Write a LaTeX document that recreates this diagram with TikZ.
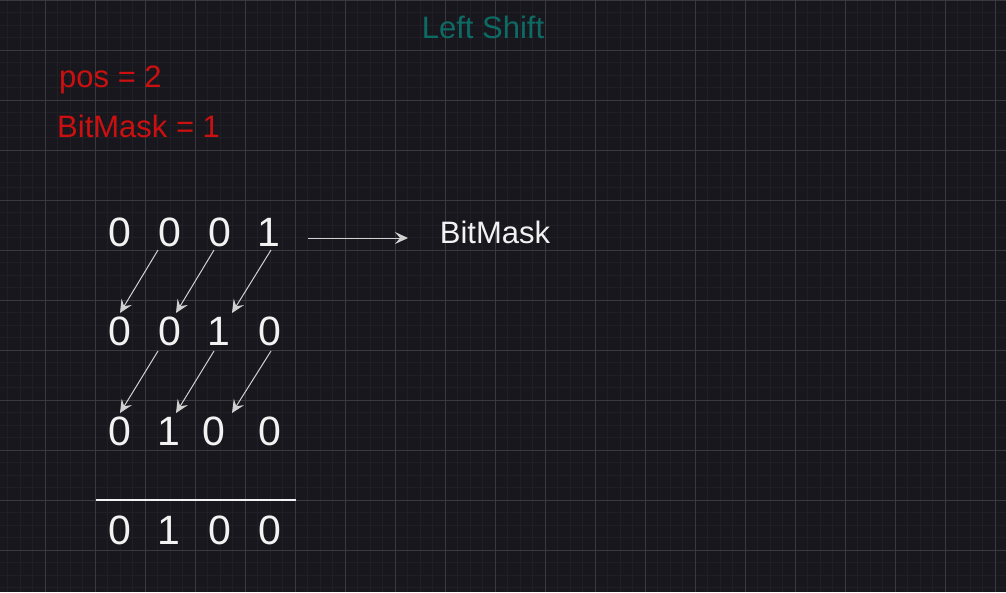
\documentclass[tikz,border=0pt]{standalone}
\usepackage{fontspec}
\setmainfont{Liberation Sans}
\usetikzlibrary{arrows.meta}
\definecolor{bg}{HTML}{18171D}
\definecolor{gridminor}{HTML}{201F25}
\definecolor{gridmajor}{HTML}{3A393F}
\definecolor{redtxt}{HTML}{CC1010}
\definecolor{tealtxt}{HTML}{0D6B66}
\definecolor{fg}{HTML}{F2F2F2}
\tikzset{
  digit/.style={text=fg, font=\fontsize{41}{41}\selectfont, inner sep=0pt, anchor=center},
  lbl/.style={font=\fontsize{31}{31}\selectfont, inner sep=0pt},
  shiftarrow/.style={draw=fg!85!bg, line width=1pt, -{Stealth[length=13pt,width=12pt,inset=5pt]}},
}
\begin{document}
\begin{tikzpicture}[x=1pt,y=-1pt]
\useasboundingbox (0,0) rectangle (1006,592);
\fill[bg] (0,0) rectangle (1006,592);
% minor grid
\foreach \i in {0,...,81} {
  \draw[gridminor, line width=0.8pt] ({-5+12.5*\i},0) -- ({-5+12.5*\i},592);
}
\foreach \j in {0,...,48} {
  \draw[gridminor, line width=0.8pt] (0,{12.5*\j}) -- (1006,{12.5*\j});
}
% major grid
\foreach \i in {0,...,20} {
  \draw[gridmajor, line width=1pt] ({45+50*\i},0) -- ({45+50*\i},592);
}
\foreach \j in {0,...,11} {
  \draw[gridmajor, line width=1pt] (0,{50*\j}) -- (1006,{50*\j});
}
% title and labels
\node[lbl, text=tealtxt] (title) at (483,27) {Left Shift};
\node[lbl, text=redtxt, anchor=west] (pos) at (59,80) {pos = 2};
\node[lbl, text=redtxt, anchor=west] (bm) at (57,126) {BitMask = 1};
% row 1
\node[digit] (a1) at (120,232) {0};
\node[digit] (a2) at (170,232) {0};
\node[digit] (a3) at (220,232) {0};
\node[digit] (a4) at (269,232) {1};
% row 2
\node[digit] (b1) at (120,331) {0};
\node[digit] (b2) at (170,331) {0};
\node[digit] (b3) at (219,331) {1};
\node[digit] (b4) at (270,331) {0};
% row 3
\node[digit] (c1) at (120,431) {0};
\node[digit] (c2) at (169,431) {1};
\node[digit] (c3) at (214,431) {0};
\node[digit] (c4) at (270,431) {0};
% result
\node[digit] (d1) at (120,530) {0};
\node[digit] (d2) at (169,530) {1};
\node[digit] (d3) at (220,530) {0};
\node[digit] (d4) at (270,530) {0};
% BitMask label
\node[lbl, text=fg] (bmlabel) at (495,232) {BitMask};
% coordinates for arrow ends
\coordinate (h1) at (308,238);
\coordinate (h2) at (408,238);
\draw[shiftarrow] (h1) -- (h2);
\coordinate (s1) at (158,250); \coordinate (e1) at (120,313);
\coordinate (s2) at (214,250); \coordinate (e2) at (176,313);
\coordinate (s3) at (271,250); \coordinate (e3) at (232,313);
\coordinate (s4) at (158,351); \coordinate (e4) at (120,413);
\coordinate (s5) at (214,351); \coordinate (e5) at (176,413);
\coordinate (s6) at (271,351); \coordinate (e6) at (232,413);
\foreach \k in {1,...,6} { \draw[shiftarrow] (s\k) -- (e\k); }
% sum line
\coordinate (l1) at (96,500);
\coordinate (l2) at (296,500);
\draw[fg, line width=1.2pt] (l1) -- (l2);
\end{tikzpicture}
\end{document}
